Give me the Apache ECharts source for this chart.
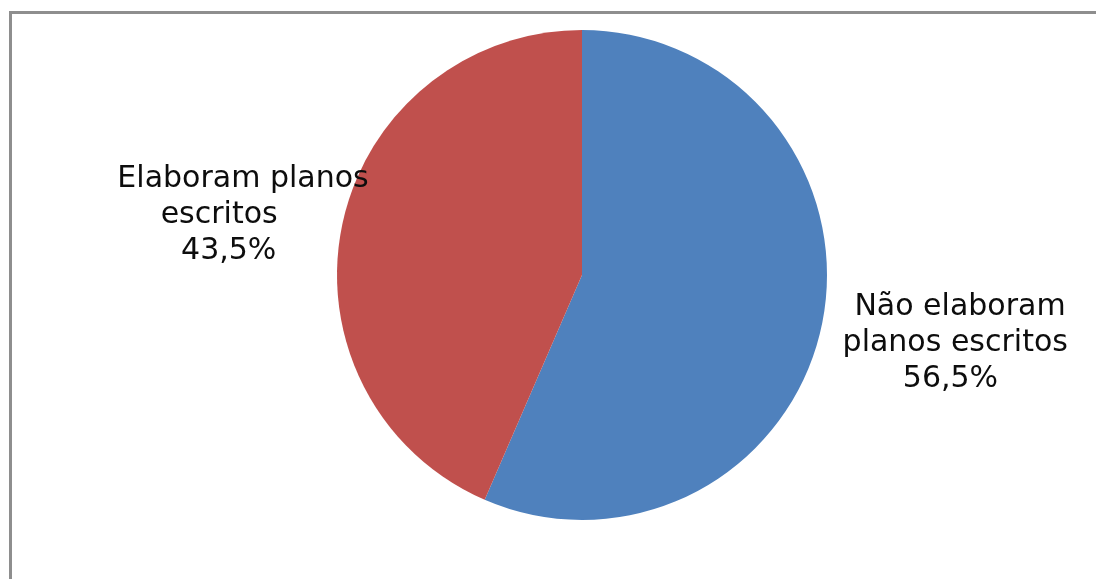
<!DOCTYPE html>
<html>
<head>
<meta charset="utf-8">
<script src="https://cdn.jsdelivr.net/npm/echarts@6/dist/echarts.min.js"></script>
<style>
  html, body { margin: 0; padding: 0; background: #fff; }
  #chart { width: 1096px; height: 579px; }
</style>
</head>
<body>
<div id="chart"></div>
<script>
// Slice data (clockwise from the top)
const categories = ['Não elaboram\nplanos escritos', 'Elaboram planos\nescritos'];
const percentValues = [56.5, 43.5];
const sliceColors = ['#4f81bd', '#c0504d'];

// where each label block sits (centre of block)
const labelSpots = [[960, 343], [243, 215]];

const chartDom = document.getElementById('chart');
const myChart = echarts.init(chartDom);

const pieData = categories.map((name, i) => ({
    name: name,
    value: percentValues[i],
    itemStyle: { color: sliceColors[i] }
}));

const option = {
    animation: false,
    backgroundColor: '#fff',
    graphic: [{
        type: 'rect',
        shape: { x: 10.5, y: 12.5, width: 1200, height: 700 },
        style: { fill: 'none', stroke: '#8e8e8e', lineWidth: 3 },
        silent: true
    }],
    series: [{
        type: 'pie',
        center: [582, 275],
        radius: [0, 245],
        startAngle: 90,
        clockwise: true,
        data: pieData,
        itemStyle: { borderWidth: 0 },
        labelLine: { show: false },
        label: {
            show: true,
            position: 'outside',
            overflow: 'none',
            fontFamily: 'DejaVu Sans',
            fontSize: 30,
            lineHeight: 36,
            color: '#0d0d0d',
            align: 'center',
            formatter: function (p) {
                const pct = String(p.value).replace('.', ',') + '%';
                const parts = p.name.split('\n');
                if (p.dataIndex === 0) {
                    return parts[0] + '\n' + parts[1] + ' \n' + pct + '  ';
                }
                return parts[0] + '\n' + parts[1] + '     \n' + pct + '   ';
            }
        },
        labelLayout: function (params) {
            const spot = labelSpots[params.dataIndex];
            return { x: spot[0], y: spot[1], align: 'center', verticalAlign: 'middle' };
        }
    }]
};

myChart.setOption(option);
</script>
</body>
</html>
